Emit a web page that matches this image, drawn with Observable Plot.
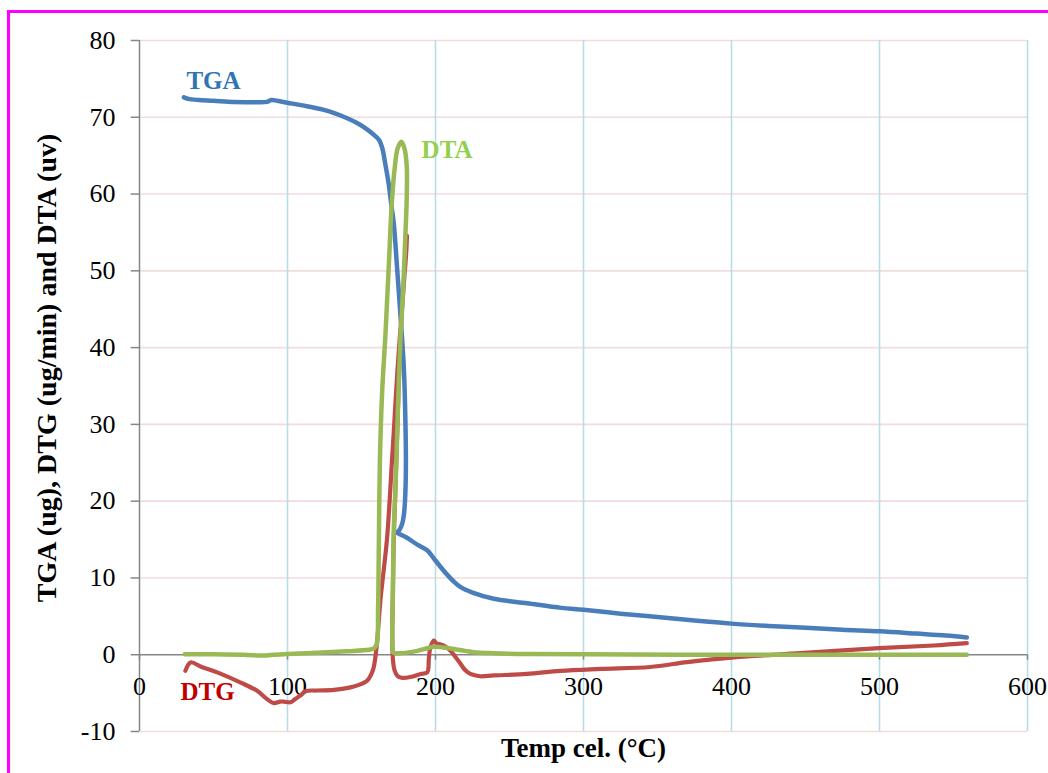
<!DOCTYPE html>
<html><head><meta charset="utf-8">
<script src="https://cdn.jsdelivr.net/npm/d3@7"></script>
<script src="https://cdn.jsdelivr.net/npm/@observablehq/plot@0.6"></script>
<style>
body{margin:0;background:#fff;}
#wrap{position:relative;width:1048px;height:773px;overflow:hidden;background:#fff;}
#chart{position:absolute;left:0;top:0;}
#frame{position:absolute;left:7px;top:10px;width:1100px;height:800px;border-left:3px solid #ff00ff;border-top:3px solid #ff00ff;z-index:2;pointer-events:none;}
</style></head><body>
<div id="wrap"><div id="chart"></div><div id="frame"></div></div>
<script>
// ---- Data ----
const xTicks = [0, 100, 200, 300, 400, 500, 600];
const yTicks = [-10, 0, 10, 20, 30, 40, 50, 60, 70, 80];
const xTitle = "Temp cel. (°C)";
const yTitle = "TGA (ug), DTG (ug/min) and DTA (uv)";
const seriesNames = ["TGA", "DTG", "DTA"];

const tgaTemp = [30,33,40,50,64,80,86,89,93,100,110,124,133,140,147,154,159,162,164,166,168.4,170,171.8,174,176.4,178.6,179.7,180,179.7,178.8,177.4,175.5,174,177,181,188,194.4,199,204,208,212,217,225,239.4,262,285,300,325,350,375,400,425,450,475,500,525,545,559];
const tgaVal  = [72.6,72.4,72.25,72.15,72.0,71.95,72.0,72.25,72.15,71.9,71.55,71.0,70.45,69.9,69.25,68.4,67.6,67.0,66.0,64.0,61.3,58.8,56.2,50.5,44,37.4,30.1,25,21.4,18.5,17.0,16.2,15.9,15.6,15.2,14.3,13.6,12.5,11.3,10.4,9.6,8.8,8.1,7.3,6.7,6.1,5.85,5.35,4.9,4.45,4.05,3.75,3.5,3.25,3.05,2.75,2.5,2.25];

const dtgTemp = [31,34.5,42,52.5,68,79.5,86,90.8,95,97.5,102,105,108.8,112.2,120,131.3,140,144.8,150,153.8,156.5,158.3,160.2,161.5,163,165,167.2,169,170.5,171.8,173,175,177.4,179.7,180.7,180.4,179.7,178.6,177.4,176.4,175.2,174.3,173,171.8,171.2,170.8,171.2,172.3,174.5,177,183,190,194.4,195.5,196.6,198.9,200.5,202.2,204,205.6,210,213.5,217,220,223.6,230,239.4,261.8,284.5,311.5,345,370,401.6,446.6,499.5,536.7,559];
const dtgVal  = [-2.1,-1.0,-1.6,-2.3,-3.6,-4.7,-5.75,-6.3,-6.1,-6.1,-6.2,-5.8,-5.3,-4.75,-4.66,-4.57,-4.35,-4.14,-3.8,-3.4,-2.6,-1.6,1,4,7.5,11,15,20,25,29,33,39,45,51.3,54.6,53,51,48.5,45,41.5,35.5,30,22,15,8,2.5,-0.5,-2,-2.8,-3.0,-2.9,-2.5,-2.3,-0.5,1.0,1.85,1.5,1.4,1.3,1.2,0.55,-0.3,-1.2,-2.0,-2.5,-2.8,-2.7,-2.5,-2.1,-1.85,-1.6,-0.97,-0.35,0.2,0.85,1.2,1.5];

const dtaTemp = [30.6,50,70,86,90,100,120,140,155,158.3,160.3,161.2,161.7,162.4,163.9,166.2,168.4,170.6,172.5,174.5,177,179.2,180.6,180.5,179.7,178.6,177.4,176.4,175.2,174.3,173,171.8,171.2,170.8,171.5,174,185,194.4,199,205,212.4,220,226,239,260,300,400,500,559];
const dtaVal  = [0.05,0.05,0.0,-0.1,0.0,0.1,0.25,0.45,0.65,0.8,1.4,6,14,25,34,41.8,50.5,59.2,63.5,66,66.8,65.8,63.5,59,54.9,49.6,45,41.5,35.5,30,22,16.2,8,2,0.3,0.2,0.4,0.85,1.05,0.95,0.75,0.5,0.33,0.2,0.1,0.05,0.0,0.0,0.0];

// ---- Build tables ----
const toRows = (xs, ys) => xs.map((x, i) => ({x, y: ys[i]}));
const tga = toRows(tgaTemp, tgaVal);
const dtg = toRows(dtgTemp, dtgVal);
const dta = toRows(dtaTemp, dtaVal);
const labels = [
  {name: seriesNames[0], x: 50, y: 74.7, color: "#2E75B6"},
  {name: seriesNames[1], x: 46, y: -4.9, color: "#C00000"},
  {name: seriesNames[2], x: 207.8, y: 65.7, color: "#92D050"}
];

const font = "'Liberation Serif', 'Times New Roman', serif";
const chart = Plot.plot({
  width: 1048, height: 773,
  marginLeft: 139, marginRight: 21, marginTop: 40, marginBottom: 42,
  x: {domain: [0, 600], axis: null},
  y: {domain: [-10, 80], axis: null},
  style: {fontFamily: font, background: "transparent", overflow: "visible"},
  marks: [
    Plot.ruleY(yTicks.filter(d => d !== 0), {y: d => d, stroke: "#F2DCDB", strokeWidth: 1.6}),
    Plot.ruleX(xTicks.filter(d => d !== 0), {x: d => d, stroke: "#B7DEE8", strokeWidth: 1.6}),
    Plot.ruleX([0], {x: d => d, stroke: "#868686", strokeWidth: 1.5}),
    Plot.ruleY([0], {y: d => d, x1: 0, x2: 600, stroke: "#868686", strokeWidth: 1.5}),
    Plot.ruleY(yTicks, {y: d => d, x1: -5.6, x2: 0, stroke: "#868686", strokeWidth: 1.5}),
    Plot.ruleX(xTicks, {x: d => d, y1: 0, y2: -0.7, stroke: "#868686", strokeWidth: 1.5}),
    Plot.text(yTicks, {x: 0, y: d => d, text: d => String(d), textAnchor: "end", dx: -24, fontSize: 26, fill: "#000"}),
    Plot.text(xTicks, {x: d => d, y: 0, text: d => String(d), dy: 32, fontSize: 26, fill: "#000"}),
    Plot.line(tga, {x: "x", y: "y", stroke: "#4A7EBB", strokeWidth: 4.5, curve: "catmull-rom", strokeLinecap: "round", strokeLinejoin: "round"}),
    Plot.line(dtg, {x: "x", y: "y", stroke: "#BE4B48", strokeWidth: 4.2, curve: "catmull-rom", strokeLinecap: "round", strokeLinejoin: "round"}),
    Plot.line(dta, {x: "x", y: "y", stroke: "#98B954", strokeWidth: 4.5, curve: "catmull-rom", strokeLinecap: "round", strokeLinejoin: "round"}),
    Plot.text(labels, {x: "x", y: "y", text: "name", fill: "color", textAnchor: "middle", fontSize: 25, fontWeight: "bold"}),
    Plot.text([xTitle], {frameAnchor: "bottom", text: d => d, textAnchor: "middle", lineAnchor: "middle", dy: 17, fontSize: 27, fontWeight: "bold", fill: "#000"}),
    Plot.text([yTitle], {frameAnchor: "left", text: d => d, textAnchor: "middle", lineAnchor: "middle", dx: -92, dy: -18, rotate: -90, fontSize: 28, fontWeight: "bold", fill: "#000"})
  ]
});
document.getElementById("chart").appendChild(chart);
</script>
</body></html>
